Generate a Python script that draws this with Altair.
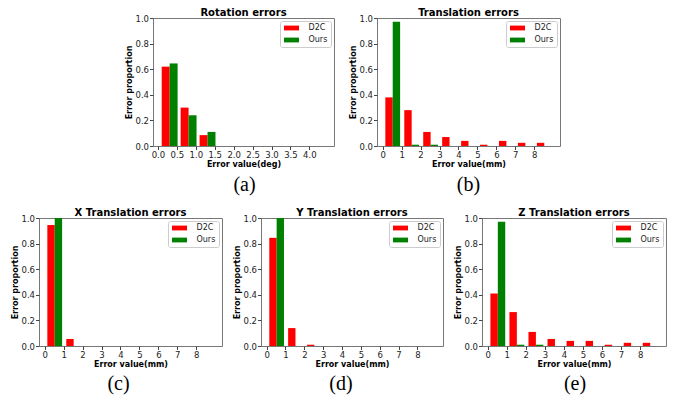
import altair as alt
import pandas as pd

series = ["D2C", "Ours"]
colors = ["#ff0000", "#008000"]

rot_bins = [0.0, 0.5, 1.0, 1.5, 2.0, 2.5, 3.0, 3.5, 4.0]
rot_d2c = [0.62, 0.30, 0.085, 0, 0, 0, 0, 0, 0]
rot_ours = [0.645, 0.24, 0.11, 0, 0, 0, 0, 0, 0]

mm_bins = [0, 1, 2, 3, 4, 5, 6, 7, 8]
trans_d2c = [0.38, 0.28, 0.11, 0.07, 0.04, 0.01, 0.04, 0.025, 0.025]
trans_ours = [0.97, 0.01, 0.01, 0, 0, 0, 0, 0, 0]
x_d2c = [0.945, 0.055, 0, 0, 0, 0, 0, 0, 0]
x_ours = [1.0, 0, 0, 0, 0, 0, 0, 0, 0]
y_d2c = [0.845, 0.14, 0.01, 0, 0, 0, 0, 0, 0]
y_ours = [1.0, 0, 0, 0, 0, 0, 0, 0, 0]
z_d2c = [0.41, 0.265, 0.11, 0.055, 0.04, 0.04, 0.01, 0.025, 0.025]
z_ours = [0.97, 0.01, 0.01, 0, 0, 0, 0, 0, 0]

rot_ticks = [0.0, 0.5, 1.0, 1.5, 2.0, 2.5, 3.0, 3.5, 4.0]
mm_ticks = [0, 1, 2, 3, 4, 5, 6, 7, 8]
y_ticks = [0.0, 0.2, 0.4, 0.6, 0.8, 1.0]

H = 128


def panel(title, bins, d2c, ours, off, bw, domain, ticks, fmt, xtitle,
          cap, cap_dx, cap_dy, width):
    rows = []
    for b, v in zip(bins, d2c):
        rows.append({"bin": b, "series": "D2C", "value": v, "base": 0.0,
                     "x0": b + off, "x1": b + off + bw})
    for b, v in zip(bins, ours):
        rows.append({"bin": b, "series": "Ours", "value": v, "base": 0.0,
                     "x0": b + off + bw, "x1": b + off + 2 * bw})
    df = pd.DataFrame(rows)
    bars = alt.Chart(df).mark_bar().encode(
        x=alt.X("x0:Q",
                scale=alt.Scale(domain=domain, nice=False, zero=False),
                axis=alt.Axis(values=ticks, format=fmt, title=xtitle)),
        x2="x1:Q",
        y=alt.Y("value:Q",
                scale=alt.Scale(domain=[0, 1], nice=False),
                axis=alt.Axis(values=y_ticks, format=".1f",
                              title="Error proportion")),
        y2="base:Q",
        color=alt.Color("series:N",
                        scale=alt.Scale(domain=series, range=colors),
                        legend=alt.Legend(title=None, orient="top-right")),
    )
    capc = alt.Chart(pd.DataFrame({"t": [cap]})).mark_text(
        font="Liberation Serif", fontSize=20, color="black"
    ).encode(text="t:N", x=alt.value(width / 2 + cap_dx), y=alt.value(H + cap_dy))
    return alt.layer(bars, capc).properties(
        width=width, height=H, title=alt.TitleParams(title)
    )


pa = panel("Rotation errors", rot_bins, rot_d2c, rot_ours, 0.1, 0.21,
           [-0.13, 4.65], rot_ticks, ".1f", "Error value(deg)", "(a)", 1, 39, 181)
pb = panel("Translation errors", mm_bins, trans_d2c, trans_ours, 0.14, 0.39,
           [-0.3, 9.36], mm_ticks, "d", "Error value(mm)", "(b)", 0, 39, 183)
pc = panel("X Translation errors", mm_bins, x_d2c, x_ours, 0.14, 0.39,
           [-0.3, 9.36], mm_ticks, "d", "Error value(mm)", "(c)", -12, 38, 183)
pd_ = panel("Y Translation errors", mm_bins, y_d2c, y_ours, 0.14, 0.39,
            [-0.3, 9.36], mm_ticks, "d", "Error value(mm)", "(d)", -11, 38, 182)
pe = panel("Z Translation errors", mm_bins, z_d2c, z_ours, 0.14, 0.39,
           [-0.3, 9.36], mm_ticks, "d", "Error value(mm)", "(e)", 1, 38, 184)

spacer = alt.Chart(pd.DataFrame({"t": [""]})).mark_text().encode(
    text="t:N"
).properties(width=71, height=H, view=alt.ViewBackground(stroke="transparent"))

row1 = alt.hconcat(spacer, pa, pb, spacing=13).resolve_legend(color="independent")
row2 = alt.hconcat(pc, pd_, pe, spacing=9).resolve_legend(color="independent")

chart = alt.vconcat(row1, row2, spacing=11).resolve_legend(
    color="independent"
).properties(
    padding={"left": 2, "top": -1, "right": 0, "bottom": 0}
).configure_axis(
    labelFont="DejaVu Sans", labelFontSize=8.5, labelColor="#222",
    titleFont="DejaVu Sans", titleFontSize=8, titleFontWeight="bold",
    titleColor="black", tickColor="#444", tickSize=3.5, domain=False,
    grid=False, labelPadding=1, labelFlush=False, labelOverlap=False
).configure_axisY(
    minExtent=19, maxExtent=19, titlePadding=1
).configure_axisX(
    titlePadding=1
).configure_view(
    stroke="#777", strokeWidth=1
).configure_title(
    font="DejaVu Sans", fontSize=10, fontWeight="bold", color="black",
    offset=-4, anchor="middle"
).configure_legend(
    orient="top-right", offset=3, padding=3, strokeColor="#ccc",
    fillColor="white", cornerRadius=2, labelFont="DejaVu Sans",
    labelFontSize=8, labelColor="#222",
    symbolType="M-2.5,-0.8L2.5,-0.8L2.5,0.8L-2.5,0.8Z", symbolSize=36,
    symbolStrokeWidth=0, symbolOffset=4.5, labelOffset=13, rowPadding=4
)

chart.save("out.html", embed_options={"renderer": "svg", "actions": False})
